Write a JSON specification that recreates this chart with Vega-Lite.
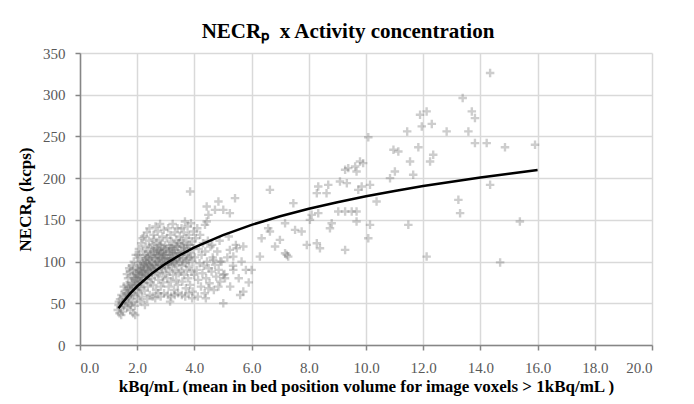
{
  "$schema": "https://vega.github.io/schema/vega-lite/v6.json",
  "width": 572,
  "height": 292,
  "autosize": {"type": "none"},
  "padding": {"left": 80, "top": 53, "right": 42, "bottom": 59},
  "background": "white",
  "title": {"text": "NECRₚ\u00a0\u00a0x Activity concentration", "font": "Liberation Serif", "fontSize": 21, "fontWeight": "bold", "color": "#000000", "anchor": "middle", "dx": -18, "offset": 4},
  "datasets": {
    "pts": [
      {"x":1.32,"y":42},{"x":1.35,"y":48},{"x":1.38,"y":38},{"x":1.40,"y":55},{"x":1.42,"y":45},{"x":1.45,"y":60},{"x":1.47,"y":50},{"x":1.50,"y":40},{"x":1.52,"y":58},{"x":1.55,"y":47},{"x":1.57,"y":65},{"x":1.58,"y":52},{"x":1.36,"y":52},{"x":1.44,"y":36},{"x":1.53,"y":70},
      {"x":1.62,"y":55},{"x":1.63,"y":72},{"x":1.65,"y":45},{"x":1.66,"y":62},{"x":1.68,"y":80},{"x":1.70,"y":50},{"x":1.71,"y":68},{"x":1.73,"y":58},{"x":1.75,"y":88},{"x":1.76,"y":42},{"x":1.78,"y":75},{"x":1.80,"y":63},{"x":1.81,"y":95},{"x":1.83,"y":52},{"x":1.84,"y":82},{"x":1.86,"y":38},{"x":1.87,"y":70},{"x":1.88,"y":100},{"x":1.90,"y":60},{"x":1.91,"y":86},{"x":1.93,"y":36},{"x":1.94,"y":77},{"x":1.95,"y":108},{"x":1.97,"y":66},{"x":1.98,"y":92},{"x":1.99,"y":55},{"x":1.64,"y":85},{"x":1.72,"y":92},{"x":1.79,"y":48},{"x":1.85,"y":90},{"x":1.92,"y":47},{"x":1.96,"y":80},
      {"x":1.61,"y":62},{"x":1.67,"y":58},{"x":1.69,"y":70},{"x":1.74,"y":66},{"x":1.77,"y":60},{"x":1.82,"y":74},{"x":1.86,"y":68},{"x":1.89,"y":80},{"x":1.93,"y":72},{"x":1.97,"y":85},
      {"x":2.01,"y":72},{"x":2.02,"y":98},{"x":2.04,"y":84},{"x":2.05,"y":62},{"x":2.06,"y":115},{"x":2.08,"y":90},{"x":2.09,"y":76},{"x":2.10,"y":105},{"x":2.12,"y":68},{"x":2.13,"y":95},{"x":2.14,"y":122},{"x":2.16,"y":82},{"x":2.17,"y":58},{"x":2.18,"y":100},{"x":2.20,"y":88},{"x":2.21,"y":112},{"x":2.22,"y":74},{"x":2.24,"y":130},{"x":2.25,"y":93},{"x":2.26,"y":65},{"x":2.28,"y":108},{"x":2.29,"y":85},{"x":2.30,"y":118},{"x":2.32,"y":78},{"x":2.33,"y":99},{"x":2.34,"y":135},{"x":2.36,"y":90},{"x":2.37,"y":70},{"x":2.38,"y":112},{"x":2.40,"y":83},{"x":2.41,"y":125},{"x":2.42,"y":102},{"x":2.44,"y":60},{"x":2.45,"y":95},{"x":2.46,"y":117},{"x":2.48,"y":88},{"x":2.49,"y":106},{"x":2.03,"y":108},{"x":2.11,"y":52},{"x":2.19,"y":128},{"x":2.27,"y":48},{"x":2.35,"y":55},{"x":2.43,"y":140},{"x":2.47,"y":75},{"x":2.15,"y":88},{"x":2.23,"y":96},{"x":2.31,"y":104},{"x":2.39,"y":97},
      {"x":2.02,"y":78},{"x":2.05,"y":88},{"x":2.07,"y":70},{"x":2.10,"y":82},{"x":2.13,"y":92},{"x":2.15,"y":76},{"x":2.18,"y":86},{"x":2.21,"y":98},{"x":2.23,"y":80},{"x":2.26,"y":90},{"x":2.29,"y":102},{"x":2.31,"y":84},{"x":2.34,"y":94},{"x":2.37,"y":106},{"x":2.39,"y":88},{"x":2.42,"y":96},{"x":2.45,"y":108},{"x":2.48,"y":92},
      {"x":2.51,"y":80},{"x":2.52,"y":120},{"x":2.53,"y":98},{"x":2.55,"y":110},{"x":2.56,"y":72},{"x":2.57,"y":132},{"x":2.58,"y":91},{"x":2.60,"y":115},{"x":2.61,"y":84},{"x":2.62,"y":104},{"x":2.64,"y":142},{"x":2.65,"y":94},{"x":2.66,"y":66},{"x":2.67,"y":122},{"x":2.69,"y":100},{"x":2.70,"y":86},{"x":2.71,"y":113},{"x":2.72,"y":136},{"x":2.74,"y":78},{"x":2.75,"y":106},{"x":2.76,"y":96},{"x":2.78,"y":125},{"x":2.79,"y":88},{"x":2.80,"y":145},{"x":2.81,"y":110},{"x":2.83,"y":70},{"x":2.84,"y":118},{"x":2.85,"y":100},{"x":2.87,"y":92},{"x":2.88,"y":130},{"x":2.89,"y":82},{"x":2.90,"y":112},{"x":2.92,"y":103},{"x":2.93,"y":138},{"x":2.94,"y":62},{"x":2.96,"y":96},{"x":2.97,"y":120},{"x":2.98,"y":86},{"x":2.54,"y":58},{"x":2.63,"y":56},{"x":2.73,"y":62},{"x":2.82,"y":58},{"x":2.91,"y":75},{"x":2.59,"y":127},{"x":2.68,"y":108},{"x":2.77,"y":114},{"x":2.86,"y":105},{"x":2.95,"y":108},
      {"x":2.52,"y":100},{"x":2.55,"y":90},{"x":2.58,"y":112},{"x":2.61,"y":96},{"x":2.64,"y":104},{"x":2.67,"y":92},{"x":2.70,"y":116},{"x":2.73,"y":100},{"x":2.76,"y":108},{"x":2.79,"y":98},{"x":2.82,"y":120},{"x":2.85,"y":94},{"x":2.88,"y":110},{"x":2.91,"y":102},{"x":2.94,"y":114},{"x":2.97,"y":104},
      {"x":3.01,"y":115},{"x":3.02,"y":92},{"x":3.04,"y":128},{"x":3.05,"y":80},{"x":3.06,"y":104},{"x":3.08,"y":140},{"x":3.09,"y":98},{"x":3.10,"y":70},{"x":3.12,"y":118},{"x":3.13,"y":108},{"x":3.14,"y":88},{"x":3.16,"y":132},{"x":3.17,"y":100},{"x":3.18,"y":76},{"x":3.20,"y":124},{"x":3.21,"y":112},{"x":3.22,"y":94},{"x":3.24,"y":145},{"x":3.25,"y":84},{"x":3.26,"y":106},{"x":3.28,"y":120},{"x":3.29,"y":66},{"x":3.30,"y":100},{"x":3.32,"y":135},{"x":3.33,"y":90},{"x":3.34,"y":114},{"x":3.36,"y":78},{"x":3.37,"y":126},{"x":3.38,"y":104},{"x":3.40,"y":96},{"x":3.41,"y":140},{"x":3.42,"y":72},{"x":3.44,"y":110},{"x":3.45,"y":86},{"x":3.46,"y":122},{"x":3.48,"y":100},{"x":3.49,"y":130},{"x":3.07,"y":60},{"x":3.19,"y":58},{"x":3.31,"y":60},{"x":3.43,"y":62},{"x":3.15,"y":116},{"x":3.27,"y":110},{"x":3.39,"y":118},{"x":3.11,"y":100},{"x":3.23,"y":102},{"x":3.15,"y":52},
      {"x":3.03,"y":108},{"x":3.08,"y":96},{"x":3.12,"y":112},{"x":3.17,"y":104},{"x":3.22,"y":116},{"x":3.27,"y":98},{"x":3.32,"y":110},{"x":3.37,"y":102},{"x":3.42,"y":118},{"x":3.47,"y":106},{"x":3.53,"y":112},{"x":3.58,"y":100},{"x":3.64,"y":116},{"x":3.70,"y":108},{"x":3.77,"y":120},
      {"x":3.51,"y":108},{"x":3.52,"y":88},{"x":3.54,"y":125},{"x":3.55,"y":140},{"x":3.57,"y":95},{"x":3.58,"y":76},{"x":3.60,"y":118},{"x":3.61,"y":104},{"x":3.63,"y":135},{"x":3.64,"y":84},{"x":3.66,"y":112},{"x":3.67,"y":148},{"x":3.69,"y":98},{"x":3.70,"y":68},{"x":3.72,"y":128},{"x":3.73,"y":90},{"x":3.75,"y":115},{"x":3.76,"y":142},{"x":3.78,"y":80},{"x":3.79,"y":104},{"x":3.81,"y":132},{"x":3.82,"y":94},{"x":3.84,"y":120},{"x":3.85,"y":72},{"x":3.87,"y":110},{"x":3.88,"y":146},{"x":3.90,"y":88},{"x":3.91,"y":124},{"x":3.93,"y":100},{"x":3.94,"y":64},{"x":3.96,"y":116},{"x":3.97,"y":136},{"x":3.99,"y":84},{"x":3.56,"y":60},{"x":3.68,"y":58},{"x":3.80,"y":62},{"x":3.92,"y":56},{"x":3.62,"y":122},{"x":3.74,"y":102},{"x":3.86,"y":106},
      {"x":4.02,"y":105},{"x":4.05,"y":128},{"x":4.08,"y":90},{"x":4.10,"y":140},{"x":4.13,"y":78},{"x":4.15,"y":115},{"x":4.18,"y":98},{"x":4.20,"y":132},{"x":4.23,"y":70},{"x":4.25,"y":108},{"x":4.28,"y":86},{"x":4.30,"y":122},{"x":4.33,"y":95},{"x":4.36,"y":62},{"x":4.38,"y":112},{"x":4.41,"y":80},{"x":4.44,"y":100},{"x":4.47,"y":125},{"x":4.50,"y":92},{"x":4.53,"y":74},{"x":4.56,"y":118},{"x":4.60,"y":88},{"x":4.64,"y":105},{"x":4.68,"y":66},{"x":4.72,"y":96},{"x":4.76,"y":82},{"x":4.80,"y":112},{"x":4.85,"y":90},{"x":4.90,"y":76},{"x":4.95,"y":100},{"x":4.12,"y":58},{"x":4.40,"y":56},{"x":4.62,"y":120},{"x":4.88,"y":125},
      {"x":5.05,"y":85},{"x":5.15,"y":105},{"x":5.25,"y":70},{"x":5.35,"y":95},{"x":5.45,"y":120},{"x":5.55,"y":80},{"x":5.65,"y":100},{"x":5.80,"y":90},{"x":5.90,"y":75},{"x":5.20,"y":130},{"x":5.60,"y":60},
      {"x":3.85,"y":184},{"x":4.43,"y":166},{"x":4.49,"y":156},{"x":6.64,"y":186},{"x":5.42,"y":176},{"x":4.84,"y":172},{"x":4.72,"y":162},{"x":5.01,"y":162},{"x":5.24,"y":158},{"x":7.46,"y":170},{"x":8.33,"y":190},{"x":8.28,"y":182},{"x":8.68,"y":192},{"x":8.62,"y":182},{"x":6.58,"y":140},{"x":6.64,"y":136},{"x":6.35,"y":128},{"x":6.99,"y":126},{"x":6.82,"y":118},{"x":7.17,"y":110},{"x":7.28,"y":106},{"x":6.29,"y":106},{"x":7.52,"y":138},{"x":7.75,"y":136},{"x":7.17,"y":146},{"x":8.04,"y":150},{"x":7.93,"y":120},{"x":8.28,"y":122},{"x":8.39,"y":116},{"x":8.8,"y":146},{"x":8.74,"y":140},{"x":5.71,"y":118},{"x":5.48,"y":116},{"x":5.24,"y":114},{"x":6.0,"y":90},{"x":5.71,"y":64},{"x":5.01,"y":50},{"x":4.49,"y":68},{"x":4.84,"y":70},{"x":5.01,"y":84},{"x":5.07,"y":80},{"x":4.66,"y":102},{"x":4.9,"y":100},{"x":5.36,"y":106},{"x":5.36,"y":90},{"x":4.43,"y":148},{"x":4.37,"y":144},{"x":7.23,"y":108},{"x":8.1,"y":156},{"x":8.33,"y":158},
      {"x":11.89,"y":276},{"x":12.12,"y":280},{"x":11.95,"y":262},{"x":12.3,"y":265},{"x":11.44,"y":256},{"x":12.82,"y":256},{"x":10.08,"y":249},{"x":10.96,"y":234},{"x":11.13,"y":232},{"x":11.83,"y":237},{"x":11.54,"y":220},{"x":12.24,"y":220},{"x":12.35,"y":228},{"x":11.01,"y":208},{"x":10.84,"y":200},{"x":11.65,"y":204},{"x":9.79,"y":220},{"x":9.9,"y":218},{"x":9.62,"y":214},{"x":9.27,"y":210},{"x":9.38,"y":212},{"x":9.67,"y":208},{"x":9.09,"y":196},{"x":9.33,"y":194},{"x":9.85,"y":190},{"x":10.14,"y":192},{"x":9.73,"y":186},{"x":10.37,"y":172},{"x":9.03,"y":160},{"x":9.27,"y":160},{"x":9.5,"y":160},{"x":9.67,"y":160},{"x":9.67,"y":148},{"x":10.14,"y":144},{"x":11.48,"y":144},{"x":10.08,"y":128},{"x":9.27,"y":114},{"x":12.12,"y":106},{"x":13.23,"y":174},{"x":13.29,"y":158},
      {"x":14.34,"y":326},{"x":13.38,"y":296},{"x":13.7,"y":280},{"x":13.81,"y":272},{"x":13.58,"y":256},{"x":13.81,"y":242},{"x":14.22,"y":242},{"x":14.86,"y":237},{"x":15.91,"y":240},{"x":14.34,"y":192},{"x":15.38,"y":148},{"x":14.69,"y":99}
    ],
    "fit": [
      {"x":1.35,"y":44.1},{"x":1.5,"y":51.2},{"x":1.75,"y":61.5},{"x":2,"y":70.4},{"x":2.5,"y":85.4},{"x":3,"y":97.6},{"x":3.5,"y":107.9},{"x":4,"y":116.9},{"x":5,"y":131.8},{"x":6,"y":144.0},{"x":7,"y":154.4},{"x":8,"y":163.3},{"x":9,"y":171.2},{"x":10,"y":178.3},{"x":11,"y":184.7},{"x":12,"y":190.5},{"x":13,"y":195.8},{"x":14,"y":200.8},{"x":15,"y":205.4},{"x":16,"y":209.8}
    ]
  },
  "encoding": {
    "x": {"field": "x", "type": "quantitative", "scale": {"domain": [0, 20], "nice": false},
      "axis": {"values": [0,2,4,6,8,10,12,14,16,18,20], "format": ".1f", "labelFont": "Liberation Serif", "labelFontSize": 15, "labelColor": "#595959", "labelPadding": 10,
        "domainColor": "#868686", "domainWidth": 1.5, "tickColor": "#868686", "tickWidth": 1.5, "tickSize": 5,
        "grid": true, "gridColor": "#d9d9d9", "gridWidth": 1.5,
        "title": "kBq/mL (mean in bed position volume for image voxels > 1kBq/mL )", "titleFont": "Liberation Serif", "titleFontSize": 17, "titleFontWeight": "bold", "titleColor": "#000000", "titlePadding": 3}},
    "y": {"field": "y", "type": "quantitative", "scale": {"domain": [0, 350], "nice": false},
      "axis": {"values": [0,50,100,150,200,250,300,350], "labelFont": "Liberation Serif", "labelFontSize": 15, "labelColor": "#595959", "labelPadding": 10,
        "domainColor": "#868686", "domainWidth": 1.5, "tickColor": "#868686", "tickWidth": 1.5, "tickSize": 5,
        "grid": true, "gridColor": "#d9d9d9", "gridWidth": 1.5,
        "title": "NECRₚ (kcps)", "titleFont": "Liberation Serif", "titleFontSize": 17, "titleFontWeight": "bold", "titleColor": "#000000", "titlePadding": 8}}
  },
  "layer": [
    {"data": {"name": "pts"}, "mark": {"type": "point", "shape": "M-1,-0.28H-0.28V-1H0.28V-0.28H1V0.28H0.28V1H-0.28V0.28H-1Z", "filled": true, "size": 72, "color": "#707070", "opacity": 0.35}},
    {"data": {"name": "fit"}, "mark": {"type": "line", "color": "#000000", "strokeWidth": 2.5}}
  ],
  "config": {"view": {"stroke": null}}
}
